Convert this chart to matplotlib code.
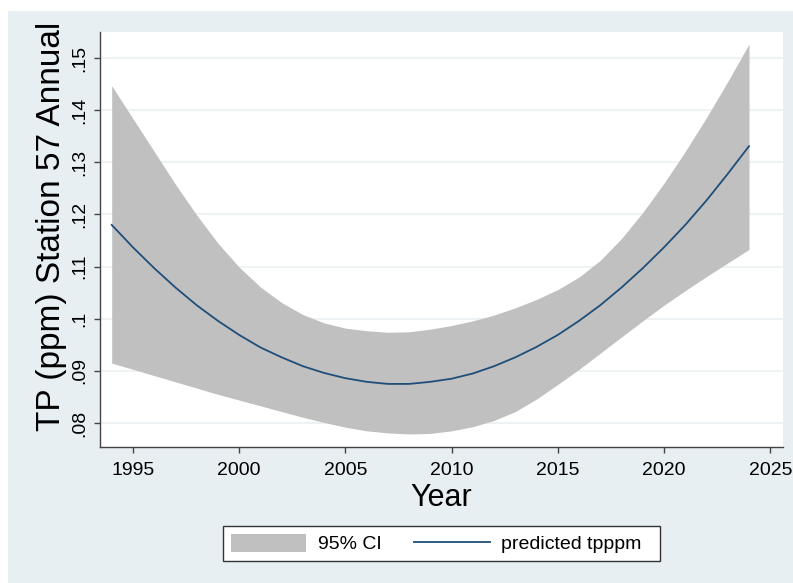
import matplotlib.pyplot as plt
from matplotlib.patches import Rectangle

plt.rcParams['font.family'] = ['Liberation Sans', 'DejaVu Sans']

# fitted values by year with the 95% confidence band
years = list(range(1994, 2025))
predicted = [0.1180, 0.1137, 0.1097, 0.1060, 0.1026, 0.0996, 0.0969, 0.0945,
             0.0926, 0.0909, 0.0896, 0.0886, 0.0879, 0.0875, 0.0875, 0.0879,
             0.0885, 0.0895, 0.0909, 0.0926, 0.0946, 0.0969, 0.0996, 0.1026,
             0.1060, 0.1097, 0.1137, 0.1180, 0.1227, 0.1278, 0.1331]
ci_upper = [0.1447, 0.1384, 0.1321, 0.1258, 0.1199, 0.1145, 0.1099, 0.1061,
            0.1031, 0.1008, 0.0992, 0.0982, 0.0977, 0.0974, 0.0975, 0.0980,
            0.0987, 0.0996, 0.1007, 0.1021, 0.1037, 0.1056, 0.1080, 0.1112,
            0.1154, 0.1204, 0.1260, 0.1321, 0.1386, 0.1455, 0.1527]
ci_lower = [0.0915, 0.0903, 0.0891, 0.0879, 0.0867, 0.0855, 0.0844, 0.0833,
            0.0822, 0.0811, 0.0801, 0.0792, 0.0785, 0.0781, 0.0779, 0.0780,
            0.0785, 0.0793, 0.0805, 0.0822, 0.0846, 0.0874, 0.0903, 0.0934,
            0.0965, 0.0996, 0.1026, 0.1054, 0.1081, 0.1107, 0.1133]

x_ticks = [1995, 2000, 2005, 2010, 2015, 2020, 2025]
y_ticks = [0.08, 0.09, 0.10, 0.11, 0.12, 0.13, 0.14, 0.15]
y_tick_labels = ['.08', '.09', '.1', '.11', '.12', '.13', '.14', '.15']

W, H = 793, 583
fig = plt.figure(figsize=(W / 100, H / 100), dpi=100)
fig.patch.set_facecolor('white')
# graph region (light bluish grey) with a thin white margin top/left
fig.patches.append(Rectangle((8 / W, 0), 1 - 8 / W, 1 - 11 / H,
                             transform=fig.transFigure, facecolor='#e8eff2',
                             edgecolor='none', zorder=-10))

ax = fig.add_axes([100 / W, 1 - 447 / H, 683 / W, 415 / H])
ax.set_facecolor('white')

band = ax.fill_between(years, ci_lower, ci_upper, color='#c0c0c0',
                       linewidth=0, label='95% CI', zorder=2)
line, = ax.plot(years, predicted, color='#1f4e79', linewidth=1.3,
                label='predicted tpppm', zorder=3)

ax.set_xlim(1993.45, 2025.6)
ax.set_ylim(0.0754, 0.155)
ax.set_xticks(x_ticks)
ax.set_yticks(y_ticks)
ax.set_yticklabels(y_tick_labels, rotation=90, va='center')
ax.grid(axis='y', color='#eaf1f4', linewidth=1.2, zorder=1)
ax.set_axisbelow(True)

for side in ('top', 'right'):
    ax.spines[side].set_visible(False)
for side in ('left', 'bottom'):
    ax.spines[side].set_color('#444444')
    ax.spines[side].set_linewidth(1.0)
ax.tick_params(direction='out', length=4.5, width=1, color='#444444',
               labelsize=14, pad=4)
ax.tick_params(axis='x', pad=6)

ax.set_xlabel('Year', fontsize=22, labelpad=3)
ax.set_ylabel('TP (ppm) Station 57 Annual', fontsize=24)
ax.yaxis.set_label_coords(-0.048, 0.5325)

fig.legend(handles=[band, line], labels=['95% CI', 'predicted tpppm  '],
           loc='center', bbox_to_anchor=(441.5 / W, 1 - 543.5 / H), ncol=2,
           fontsize=14, frameon=True, fancybox=False, framealpha=1,
           edgecolor='#333333', handlelength=3.9, handleheight=1.05,
           handletextpad=0.57, columnspacing=1.7, borderpad=0.4)

fig.savefig('out.png', dpi=100, facecolor=fig.get_facecolor())
